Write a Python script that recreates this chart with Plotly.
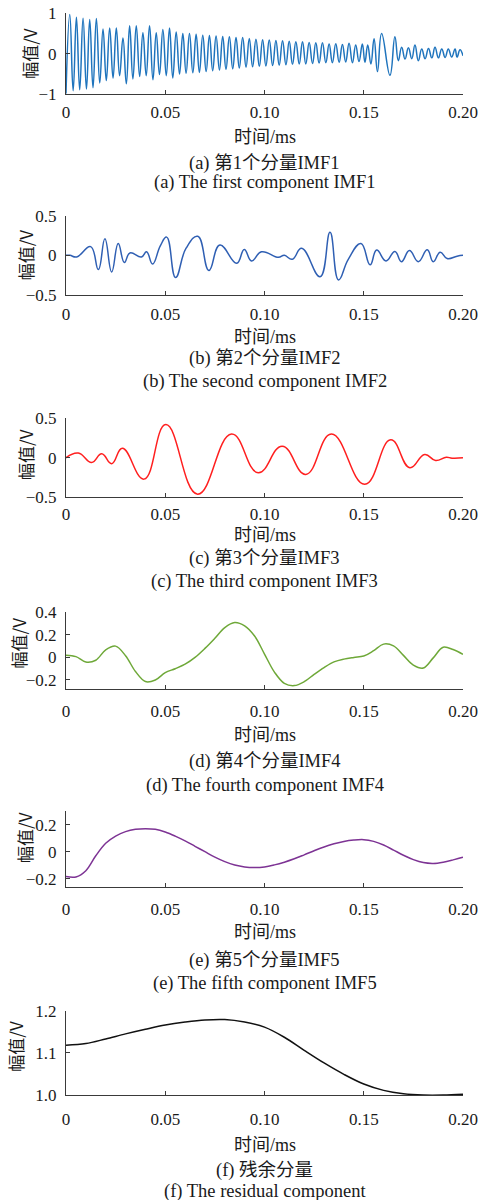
import plotly.graph_objects as go

# ---------------- data ----------------
x_tick_vals = [0, 0.05, 0.10, 0.15, 0.20]
x_tick_text = ["0", "0.05", "0.10", "0.15", "0.20"]

# IMF1 : extrema of the fast oscillation (time in ms, amplitude in V)
imf1_t = [0.0000,
          0.0019, 0.0036, 0.00525, 0.0069, 0.0086, 0.0103, 0.01195, 0.0136,
          0.0153, 0.0170, 0.01865, 0.0203, 0.0220, 0.0237, 0.02535, 0.0270,
          0.0287, 0.0304, 0.03205, 0.0337, 0.0354, 0.0371, 0.03875, 0.0404,
          0.0421, 0.0438, 0.04545, 0.0471, 0.0488, 0.0505, 0.05215, 0.0538,
          0.0555, 0.0572, 0.05885, 0.0605, 0.0622, 0.0639, 0.06555, 0.0672,
          0.0689, 0.0706, 0.07225, 0.0739, 0.0756, 0.0773, 0.07895, 0.0806,
          0.0823, 0.0840, 0.08565, 0.0873, 0.0890, 0.0907, 0.09235, 0.0940,
          0.0957, 0.0974, 0.09905, 0.1007, 0.1024, 0.1041, 0.10575, 0.1074,
          0.1091, 0.1108, 0.11245, 0.1141, 0.1158, 0.1175, 0.11915, 0.1208,
          0.1225, 0.1242, 0.12585, 0.1275, 0.1292, 0.1309, 0.13255, 0.1342,
          0.1359, 0.1376, 0.13925, 0.1409, 0.1426, 0.1443, 0.14595, 0.1476,
          0.1493, 0.1506, 0.1520, 0.1536,
          0.1552, 0.1569, 0.1590, 0.1632, 0.1657, 0.1674, 0.1691, 0.1708,
          0.1725, 0.1742, 0.1758, 0.1775, 0.1792, 0.1809, 0.1826, 0.1843,
          0.1859, 0.1876, 0.1893, 0.1910, 0.1926, 0.1943, 0.1960, 0.1970,
          0.1985, 0.2000]
imf1_v = [-0.98,
          0.97, -0.91, 0.90, -0.89, 0.88, -0.87, 0.85, -0.84,
          0.87, -0.72, 0.61, -0.66, 0.64, -0.60, 0.64, -0.54,
          0.39, -0.74, 0.69, -0.62, 0.69, -0.56, 0.52, -0.54,
          0.69, -0.64, 0.52, -0.51, 0.60, -0.54, 0.64, -0.60,
          0.54, -0.50, 0.50, -0.48, 0.50, -0.47, 0.48, -0.46,
          0.46, -0.44, 0.45, -0.42, 0.44, -0.40, 0.43, -0.38,
          0.42, -0.37, 0.40, -0.35, 0.40, -0.33, 0.38, -0.32,
          0.36, -0.31, 0.35, -0.30, 0.34, -0.29, 0.33, -0.28,
          0.32, -0.27, 0.31, -0.26, 0.30, -0.25, 0.30, -0.25,
          0.28, -0.24, 0.27, -0.23, 0.27, -0.22, 0.24, -0.22,
          0.25, -0.21, 0.23, -0.20, 0.26, -0.22, 0.22, -0.19,
          0.24, -0.21, 0.22, -0.25,
          0.37, -0.44, 0.50, -0.53, 0.42, -0.17, 0.16, -0.13,
          0.15, -0.12, 0.22, -0.17, 0.12, -0.12, 0.13, -0.10,
          0.16, -0.10, 0.12, -0.09, 0.12, -0.08, 0.12, -0.08,
          0.10, -0.05]

# IMF2
imf2_t = [0.0000, 0.0020, 0.0054, 0.0124, 0.0163, 0.0196, 0.0230, 0.0263,
          0.0294, 0.0322, 0.0380, 0.0406, 0.0436, 0.0475, 0.0507, 0.0552,
          0.0605, 0.0664, 0.0720, 0.0775, 0.0860, 0.0898, 0.0935, 0.0985,
          0.1070, 0.1100, 0.1140, 0.1187, 0.1280, 0.1330, 0.1373, 0.1422,
          0.1486, 0.1532, 0.1565, 0.1612, 0.1657, 0.1690, 0.1730, 0.1775,
          0.1820, 0.1850, 0.1885, 0.1920, 0.1970, 0.2000]
imf2_v = [0.00, 0.00, -0.02, 0.11, -0.18, 0.21, -0.21, 0.15,
          -0.09, 0.03, -0.02, 0.045, -0.11, 0.12, 0.23, -0.28,
          0.09, 0.24, -0.19, 0.13, -0.10, 0.075, -0.07, 0.045,
          -0.025, 0.00, -0.05, 0.09, -0.27, 0.29, -0.31, -0.05,
          0.15, -0.12, 0.067, -0.07, 0.05, -0.08, 0.06, -0.08,
          0.07, -0.08, 0.04, -0.04, -0.01, 0.00]

# IMF3
imf3_t = [0.0000, 0.0062, 0.0129, 0.0180, 0.0230, 0.0284, 0.0393, 0.0503,
          0.0663, 0.0834, 0.0968, 0.1089, 0.1208, 0.1337, 0.1505, 0.1636,
          0.1732, 0.1807, 0.1862, 0.1916, 0.1945, 0.2000]
imf3_v = [0.00, 0.06, -0.06, 0.05, -0.075, 0.12, -0.27, 0.42,
          -0.46, 0.30, -0.19, 0.147, -0.21, 0.30, -0.336, 0.227,
          -0.126, 0.042, -0.034, 0.008, -0.005, 0.00]

# IMF4 (read every 0.005 ms)
imf4_t = [0.000, 0.005, 0.010, 0.015, 0.020, 0.025, 0.030, 0.035, 0.040,
          0.045, 0.050, 0.055, 0.060, 0.065, 0.070, 0.075, 0.080, 0.085,
          0.090, 0.095, 0.100, 0.105, 0.110, 0.115, 0.120, 0.125, 0.130,
          0.135, 0.140, 0.145, 0.150, 0.155, 0.160, 0.165, 0.170, 0.175,
          0.180, 0.185, 0.190, 0.195, 0.200]
imf4_v = [0.020, 0.007, -0.041, -0.025, 0.067, 0.100, 0.015, -0.125, -0.214,
          -0.200, -0.135, -0.100, -0.060, 0.000, 0.080, 0.170, 0.265, 0.310,
          0.280, 0.190, 0.030, -0.130, -0.230, -0.250, -0.215, -0.150, -0.090,
          -0.040, -0.015, 0.000, 0.012, 0.060, 0.118, 0.102, 0.018, -0.068,
          -0.094, -0.004, 0.090, 0.070, 0.027]

# IMF5 (read every 0.005 ms)
imf5_t = [0.000, 0.005, 0.010, 0.015, 0.020, 0.025, 0.030, 0.035, 0.040,
          0.045, 0.050, 0.055, 0.060, 0.065, 0.070, 0.075, 0.080, 0.085,
          0.090, 0.095, 0.100, 0.105, 0.110, 0.115, 0.120, 0.125, 0.130,
          0.135, 0.140, 0.145, 0.150, 0.155, 0.160, 0.165, 0.170, 0.175,
          0.180, 0.185, 0.190, 0.195, 0.200]
imf5_v = [-0.183, -0.186, -0.140, -0.030, 0.062, 0.115, 0.148, 0.165, 0.170,
          0.165, 0.145, 0.115, 0.080, 0.040, 0.000, -0.040, -0.073, -0.098,
          -0.112, -0.116, -0.112, -0.097, -0.077, -0.052, -0.023, 0.007, 0.035,
          0.058, 0.076, 0.086, 0.089, 0.076, 0.049, 0.012, -0.026, -0.058,
          -0.080, -0.086, -0.077, -0.060, -0.040]

# residual (read every 0.01 ms)
res_t = [0.00, 0.01, 0.02, 0.03, 0.04, 0.05, 0.06, 0.07, 0.08, 0.09, 0.10,
         0.11, 0.12, 0.13, 0.14, 0.15, 0.16, 0.17, 0.18, 0.19, 0.20]
res_v = [1.118, 1.122, 1.133, 1.145, 1.156, 1.166, 1.173, 1.178, 1.179,
         1.173, 1.161, 1.137, 1.106, 1.076, 1.049, 1.026, 1.011, 1.003,
         1.000, 1.000, 1.002]

y_ticks = [[-1, 0, 1], [-0.5, 0, 0.5], [-0.5, 0, 0.5], [-0.2, 0, 0.2, 0.4],
           [-0.2, 0, 0.2], [1.0, 1.1, 1.2]]
y_tick_text = [["\u22121", "0", "1"], ["\u22120.5", "0", "0.5"],
               ["\u22120.5", "0", "0.5"], ["\u22120.2", "0", "0.2", "0.4"],
               ["\u22120.2", "0", "0.2"], ["1.0", "1.1", "1.2"]]
y_ranges = [[-1, 1], [-0.5, 0.5], [-0.5, 0.5], [-0.28, 0.4], [-0.26, 0.3],
            [1.0, 1.2]]

captions_cn = ["(a) 第1个分量IMF1", "(b) 第2个分量IMF2", "(c) 第3个分量IMF3",
               "(d) 第4个分量IMF4", "(e) 第5个分量IMF5", "(f) 残余分量"]
captions_en = ["(a) The first component IMF1", "(b) The second component IMF2",
               "(c) The third component IMF3", "(d) The fourth component IMF4",
               "(e) The fifth component IMF5", "(f) The residual component"]
x_title = "时间/ms"
y_title = "幅值/V"

# ---------------- styling / layout ----------------
W, H = 496, 1200
colors = ["#1f74bd", "#2f5fb3", "#ff1f1f", "#6ea838", "#7d3394", "#111111"]
series = [(imf1_t, imf1_v), (imf2_t, imf2_v), (imf3_t, imf3_v),
          (imf4_t, imf4_v), (imf5_t, imf5_v), (res_t, res_v)]
smooth = [1.3, 1.3, 1.3, 1.0, 1.0, 1.0]

# pixel geometry of each panel: (top, bottom) of plotting area
panel_px = [(13.3, 94.3), (215.7, 295.0), (418.3, 497.3), (612.3, 689.0),
            (811.0, 887.0), (1010.7, 1095.0)]
x_left, x_right = 66, 463
xlab_standoff = [2, 4, 1, 7, 7, 9]
xtitle_y = [136.7, 336.7, 535.0, 735.0, 931.7, 1145.0]
cap1_y = [163.3, 358.3, 558.0, 761.7, 960.0, 1170.0]
cap2_y = [182.7, 381.7, 581.7, 785.0, 983.3, 1191.7]
ytitle_pos = [(30, 53.8), (25, 255.3), (25, 455.0), (18, 643.5), (24, 838.0),
              (16, 1046.7)]

SERIF = "Liberation Serif, 'Times New Roman', 'Noto Sans CJK SC', serif"
CJK = "'Noto Sans CJK SC', sans-serif"
AXC = "#3a3a3a"
TXT = "#1a1a1a"

fig = go.Figure()
layout = dict(width=W, height=H,
              margin=dict(l=0, r=0, t=0, b=0, pad=0, autoexpand=False),
              paper_bgcolor="white", plot_bgcolor="white", showlegend=False)
annotations = []

def py(px):
    return 1 - px / H

for i, (t, v) in enumerate(series):
    sfx = "" if i == 0 else str(i + 1)
    fig.add_trace(go.Scatter(
        x=t, y=v, mode="lines",
        line=dict(color=colors[i], width=1.5, shape="spline", smoothing=smooth[i]),
        xaxis="x" + sfx, yaxis="y" + sfx, hoverinfo="skip"))
    top, bot = panel_px[i]
    layout["xaxis" + sfx] = dict(
        domain=[x_left / W, x_right / W], range=[0, 0.2], anchor="y" + sfx,
        tickmode="array", tickvals=x_tick_vals, ticktext=x_tick_text,
        ticks="inside", ticklen=4, tickwidth=1, tickcolor=AXC,
        showline=True, linecolor=AXC, linewidth=1, mirror=False,
        showgrid=False, zeroline=False, fixedrange=True, automargin=False,
        ticklabelstandoff=xlab_standoff[i],
        tickfont=dict(family=SERIF, size=17, color=TXT))
    layout["yaxis" + sfx] = dict(
        domain=[py(bot), py(top)], range=y_ranges[i], anchor="x" + sfx,
        tickmode="array", tickvals=y_ticks[i], ticktext=y_tick_text[i],
        ticks="inside", ticklen=4, tickwidth=1, tickcolor=AXC,
        showline=True, linecolor=AXC, linewidth=1, mirror=False,
        showgrid=False, zeroline=False, fixedrange=True, automargin=False,
        ticklabelstandoff=5,
        tickfont=dict(family=SERIF, size=17, color=TXT))
    xc = (x_left + x_right) / 2 / W
    annotations.append(dict(text=x_title, x=xc, y=py(xtitle_y[i]), xref="paper",
                            yref="paper", xanchor="center", yanchor="middle",
                            showarrow=False, font=dict(family=SERIF, size=18, color=TXT)))
    annotations.append(dict(text=captions_cn[i], x=xc, y=py(cap1_y[i]), xref="paper",
                            yref="paper", xanchor="center", yanchor="middle",
                            showarrow=False, font=dict(family=SERIF, size=18.5, color=TXT)))
    annotations.append(dict(text=captions_en[i], x=xc, y=py(cap2_y[i]), xref="paper",
                            yref="paper", xanchor="center", yanchor="middle",
                            showarrow=False, font=dict(family=SERIF, size=18.5, color=TXT)))
    yx, yy = ytitle_pos[i]
    annotations.append(dict(text=y_title, x=yx / W, y=py(yy), xref="paper",
                            yref="paper", xanchor="center", yanchor="middle",
                            textangle=-90, showarrow=False,
                            font=dict(family=CJK, size=17, color=TXT)))

layout["annotations"] = annotations
fig.update_layout(**layout)
fig.write_html("out.html")
